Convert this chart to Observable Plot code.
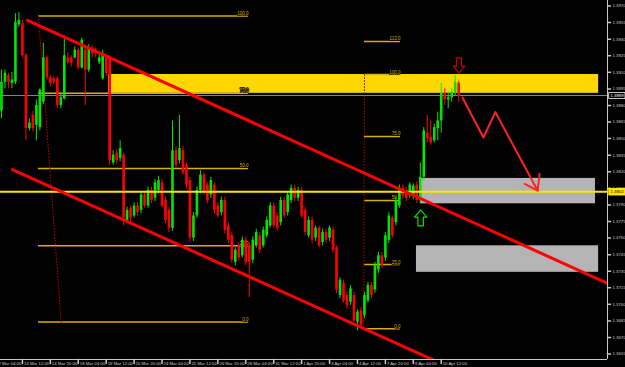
<!DOCTYPE html>
<html><head><meta charset="utf-8">
<script src="https://cdn.jsdelivr.net/npm/d3@7"></script>
<script src="https://cdn.jsdelivr.net/npm/@observablehq/plot@0.6"></script>
<style>html,body{margin:0;padding:0;background:#000;}#chart svg{display:block;}</style>
</head><body><div id="chart"></div>
<script>
// ---- EURUSD H4 candles (bar index 2..133) ----
const firstBar = 2;
const open  = [1.3875,1.3901,1.3907,1.3900,1.3901,1.3953,1.3954,1.3925,1.3859,1.3871,1.3862,1.3860,1.3883,1.3923,1.3905,1.3904,1.3904,1.3880,1.3886,1.3923,1.3923,1.3923,1.3930,1.3914,1.3930,1.3912,1.3932,1.3930,1.3919,1.3904,1.3923,1.3923,
1.3828,1.3837,1.3832,1.3835,1.3776,1.3787,1.3780,1.3789,1.3785,1.3799,1.3789,1.3803,1.3796,1.3803,1.3810,1.3794,1.3785,1.3769,1.3839,1.3830,1.3839,1.3826,1.3812,1.3760,1.3780,1.3803,1.3817,1.3808,1.3799,1.3808,1.3789,1.3783,1.3794,1.3771,1.3762,1.3738,1.3753,1.3744,1.3758,1.3753,1.3740,1.3753,1.3762,1.3753,1.3762,1.3771,1.3789,1.3780,1.3774,1.3794,1.3783,1.3794,1.3805,1.3796,1.3803,1.3785,1.3762,1.3776,1.3760,1.3769,1.3756,1.3765,1.3760,1.3767,1.3751,1.3708,1.3719,1.3708,1.3702,1.3708,1.3684,1.3694,1.3690,1.3703,1.3717,1.3713,1.3731,1.3744,1.3742,1.3758,1.3778,1.3774,1.3789,1.3805,1.3803,1.3799,1.3798,1.3808,1.3794,1.3815,1.3855,1.3851,1.3848,1.3859,1.3866,1.3891,1.3885,1.3887,1.3891,1.3900];
const high  = [1.3912,1.3912,1.3909,1.3910,1.3963,1.3964,1.3957,1.3927,1.3868,1.3875,1.3885,1.3895,1.3936,1.3925,1.3907,1.3906,1.3906,1.3890,1.3943,1.3928,1.3925,1.3933,1.3932,1.3941,1.3934,1.3935,1.3934,1.3932,1.3926,1.3930,1.3926,1.3925,
1.3839,1.3840,1.3848,1.3837,1.3788,1.3789,1.3792,1.3792,1.3801,1.3801,1.3806,1.3806,1.3813,1.3816,1.3813,1.3797,1.3788,1.3866,1.3843,1.3871,1.3843,1.3828,1.3815,1.3783,1.3806,1.3821,1.3819,1.3810,1.3815,1.3810,1.3792,1.3797,1.3797,1.3774,1.3765,1.3751,1.3756,1.3761,1.3761,1.3756,1.3761,1.3768,1.3765,1.3770,1.3779,1.3792,1.3792,1.3783,1.3797,1.3797,1.3801,1.3808,1.3808,1.3806,1.3806,1.3788,1.3779,1.3779,1.3771,1.3771,1.3768,1.3768,1.3771,1.3770,1.3753,1.3724,1.3722,1.3711,1.3717,1.3711,1.3695,1.3697,1.3711,1.3720,1.3720,1.3738,1.3747,1.3747,1.3765,1.3783,1.3780,1.3797,1.3808,1.3808,1.3806,1.3810,1.3809,1.3811,1.3828,1.3860,1.3871,1.3866,1.3863,1.3874,1.3900,1.3895,1.3892,1.3895,1.3907,1.3902];
const low   = [1.3868,1.3895,1.3895,1.3895,1.3899,1.3951,1.3923,1.3848,1.3857,1.3856,1.3848,1.3857,1.3881,1.3903,1.3897,1.3899,1.3877,1.3877,1.3885,1.3917,1.3915,1.3922,1.3912,1.3913,1.3880,1.3910,1.3923,1.3923,1.3917,1.3903,1.3906,1.3826,
1.3826,1.3827,1.3829,1.3771,1.3773,1.3775,1.3778,1.3780,1.3782,1.3787,1.3787,1.3791,1.3793,1.3800,1.3787,1.3773,1.3765,1.3766,1.3823,1.3827,1.3817,1.3805,1.3756,1.3757,1.3778,1.3800,1.3799,1.3791,1.3796,1.3782,1.3778,1.3780,1.3764,1.3755,1.3737,1.3735,1.3739,1.3742,1.3735,1.3706,1.3737,1.3751,1.3746,1.3751,1.3760,1.3769,1.3769,1.3766,1.3771,1.3778,1.3780,1.3791,1.3793,1.3793,1.3778,1.3762,1.3760,1.3755,1.3757,1.3751,1.3753,1.3755,1.3757,1.3746,1.3710,1.3705,1.3701,1.3696,1.3699,1.3683,1.3676,1.3678,1.3687,1.3701,1.3705,1.3710,1.3728,1.3732,1.3739,1.3755,1.3760,1.3771,1.3787,1.3795,1.3793,1.3796,1.3795,1.3791,1.3791,1.3812,1.3846,1.3844,1.3846,1.3848,1.3855,1.3880,1.3877,1.3883,1.3888,1.3883];
const close = [1.3901,1.3909,1.3901,1.3903,1.3955,1.3957,1.3925,1.3859,1.3864,1.3859,1.3880,1.3894,1.3923,1.3905,1.3900,1.3901,1.3880,1.3887,1.3925,1.3919,1.3918,1.3930,1.3914,1.3939,1.3912,1.3932,1.3927,1.3927,1.3923,1.3927,1.3909,1.3830,
1.3835,1.3830,1.3841,1.3778,1.3785,1.3778,1.3789,1.3783,1.3799,1.3789,1.3803,1.3794,1.3810,1.3812,1.3789,1.3776,1.3769,1.3839,1.3826,1.3841,1.3819,1.3808,1.3760,1.3780,1.3803,1.3817,1.3801,1.3794,1.3812,1.3785,1.3780,1.3794,1.3767,1.3758,1.3740,1.3749,1.3742,1.3758,1.3738,1.3738,1.3758,1.3765,1.3749,1.3767,1.3776,1.3789,1.3771,1.3769,1.3794,1.3780,1.3799,1.3805,1.3796,1.3803,1.3780,1.3765,1.3776,1.3758,1.3769,1.3753,1.3765,1.3758,1.3769,1.3749,1.3713,1.3722,1.3703,1.3699,1.3714,1.3685,1.3693,1.3681,1.3708,1.3717,1.3708,1.3735,1.3744,1.3735,1.3762,1.3780,1.3762,1.3794,1.3805,1.3798,1.3796,1.3808,1.3807,1.3794,1.3815,1.3857,1.3850,1.3846,1.3860,1.3866,1.3891,1.3885,1.3887,1.3892,1.3901,1.3888];

// ---- axes ----
const yTicks = [1.3970,1.3955,1.3940,1.3925,1.3910,1.3895,1.3880,1.3865,1.3850,1.3835,1.3820,1.3805,1.3790,1.3775,1.3760,1.3745,1.3730,1.3715,1.3700,1.3685,1.3670,1.3655];
const xTickBars = [0,8,16,24,32,40,48,56,64,72,80,88,96,104,112,120,128];
const xTickLabels = ["12 Mar 04:00","13 Mar 12:00","14 Mar 20:00","18 Mar 04:00","19 Mar 12:00","20 Mar 20:00","24 Mar 04:00","25 Mar 12:00","26 Mar 20:00","28 Mar 04:00","31 Mar 12:00","1 Apr 20:00","3 Apr 04:00","4 Apr 12:00","7 Apr 20:00","9 Apr 04:00","10 Apr 12:00"];
const bidPrice = 1.3889;
const linePrice = 1.3802;

// ---- drawn objects ----
const zoneFrom = [32.66, 122.1, 120.9];
const zoneTo   = [173.1, 172.2, 173.1];
const zoneLow  = [1.3891, 1.3791, 1.3729];
const zoneHigh = [1.3908, 1.3814, 1.3753];

const trendBar1 = [9.46, 5.16], trendP1 = [1.3957, 1.3822];
const trendBar2 = [175.64, 125.5], trendP2 = [1.3719, 1.3650];

const zigBars = [134.1, 140.1, 143.5, 155.6];
const zigPrices = [1.3887, 1.3851, 1.3874, 1.3803];
const headBars = [151.9, 155.6, 156.2];
const headPrices = [1.3809, 1.3803, 1.3818];

const leftFibLevels = [1.3961, 1.3891, 1.3823, 1.3753, 1.3684];
const leftFibLabels = ["100.0", "75.0", "50.0", "25.0", "0.0"];
const leftFibFrom = 12.6, leftFibTo = 72.8;
const leftFibDiag = {bars: [12.6, 19.1], prices: [1.3961, 1.3684]};
const rightFibLevels = [1.3938, 1.3908, 1.3852, 1.3794, 1.3736, 1.3678];
const rightFibLabels = ["113.0", "100.0", "75.0", "50.0", "25.0", "0.0"];
const rightFibFrom = 106.0, rightFibTo = 116.3;
const rightFibDiag = {bars: [106.0, 105.8], prices: [1.3908, 1.3678]};

const sellArrow = {bar: 133.1, price: 1.3923};
const buyArrow = {bar: 122.1, price: 1.3771};

// ---- build ----
const candles = open.map((o, i) => ({bar: firstBar + i, open: o, high: high[i], low: low[i], close: close[i]}));
const zones = zoneFrom.map((f, i) => ({x1: f, x2: zoneTo[i], y1: zoneLow[i], y2: zoneHigh[i], kind: i}));
const trend = [0, 1].flatMap(k => [{k, bar: trendBar1[k], p: trendP1[k]}, {k, bar: trendBar2[k], p: trendP2[k]}]);
const zig = zigBars.map((b, i) => ({bar: b, p: zigPrices[i]}));
const head = headBars.map((b, i) => ({bar: b, p: headPrices[i]}));
const lf = leftFibLevels.map((p, i) => ({p, label: leftFibLabels[i]}));
const rf = rightFibLevels.map((p, i) => ({p, label: rightFibLabels[i]}));
const diagL = leftFibDiag.bars.map((b, i) => ({bar: b, p: leftFibDiag.prices[i]}));
const diagR = rightFibDiag.bars.map((b, i) => ({bar: b, p: rightFibDiag.prices[i]}));

const xMin = 1.719, xMax = 175.64, yMin = 1.36501, yMax = 1.3975;
const up = "#00e600", down = "#ff0000", gold = "#d9b000", axisCol = "#c8c8c8";

const tickShape = {draw(ctx, l) { ctx.moveTo(0, 0); ctx.lineTo(0, -l); }};
const blockArrow = {draw(ctx, l) {
  const s = 0.17 * l, h = 0.38 * l, hl = 0.45 * l;
  ctx.moveTo(-s, 0); ctx.lineTo(-s, -l + hl); ctx.lineTo(-h, -l + hl); ctx.lineTo(0, -l);
  ctx.lineTo(h, -l + hl); ctx.lineTo(s, -l + hl); ctx.lineTo(s, 0); ctx.closePath();
}};
const boxShape = {draw(ctx) { ctx.rect(1.5, -3, 16, 6); }};

const font = "Liberation Sans, Arial, sans-serif";

const chart = Plot.plot({
  width: 625, height: 367,
  marginLeft: 0, marginRight: 18, marginTop: 0, marginBottom: 8,
  x: {domain: [xMin, xMax], axis: null},
  y: {domain: [yMin, yMax], axis: null},
  style: {background: "#000", fontFamily: font},
  marks: [
    Plot.rect(zones, {x1: "x1", x2: "x2", y1: "y1", y2: "y2", fill: d => d.kind === 0 ? "#ffd700" : "#b4b4b4"}),
    Plot.ruleY(lf, {y: "p", x1: leftFibFrom, x2: leftFibTo, stroke: gold, strokeWidth: 1.5}),
    Plot.ruleY(rf, {y: "p", x1: rightFibFrom, x2: rightFibTo, stroke: gold, strokeWidth: 1.5}),
    Plot.line(diagL, {x: "bar", y: "p", stroke: "#b00000", strokeDasharray: "1,2", strokeWidth: 1}),
    Plot.line(diagR, {x: "bar", y: "p", stroke: "#b00000", strokeDasharray: "1,2", strokeWidth: 1}),
    Plot.text(lf, {x: leftFibTo, y: "p", text: "label", textAnchor: "end", lineAnchor: "bottom", dy: -1, fill: gold, fontSize: 4.5, stroke: "#000", strokeWidth: 1.5}),
    Plot.text(rf, {x: rightFibTo, y: "p", text: "label", textAnchor: "end", lineAnchor: "bottom", dy: -1, fill: gold, fontSize: 4.5, stroke: "#000", strokeWidth: 1.5}),
    Plot.ruleY([bidPrice], {stroke: "#778899", strokeWidth: 1}),
    Plot.ruleX(candles, {x: "bar", y1: "low", y2: "high", stroke: d => d.close >= d.open ? up : down, strokeWidth: 1}),
    Plot.ruleX(candles, {x: "bar", y1: "open", y2: "close", stroke: d => d.close >= d.open ? up : down, strokeWidth: 2.6}),
    Plot.ruleY([linePrice], {stroke: "#ffe400", strokeWidth: 2}),
    Plot.line(trend, {x: "bar", y: "p", z: "k", stroke: "#ff0000", strokeWidth: 3, clip: true}),
    Plot.line(zig, {x: "bar", y: "p", stroke: "#ff2222", strokeWidth: 2}),
    Plot.line(head, {x: "bar", y: "p", stroke: "#ff2222", strokeWidth: 2}),
    Plot.vector([sellArrow], {x: "bar", y: "price", length: 15, rotate: 180, anchor: "start", shape: blockArrow, stroke: "#c80000", strokeWidth: 1.2, fill: "none"}),
    Plot.vector([buyArrow], {x: "bar", y: "price", length: 16, rotate: 0, anchor: "start", shape: blockArrow, stroke: "#00e000", strokeWidth: 1.2, fill: "none"}),
    Plot.ruleX([xMax], {stroke: axisCol, strokeWidth: 1}),
    Plot.ruleY([yMin], {stroke: axisCol, strokeWidth: 1}),
    Plot.vector(yTicks, {x: xMax, y: d => d, length: 3, rotate: 90, anchor: "start", shape: tickShape, stroke: axisCol}),
    Plot.text(yTicks, {x: xMax, y: d => d, text: d => d.toFixed(4), textAnchor: "start", dx: 5, fill: axisCol, fontSize: 4.3}),
    Plot.vector(xTickBars, {x: d => d, y: yMin, length: 4, rotate: 180, anchor: "start", shape: tickShape, stroke: axisCol}),
    Plot.text(xTickBars, {x: d => d, y: yMin, text: (d, i) => xTickLabels[i], textAnchor: "start", dx: 1.5, dy: 4, fill: axisCol, fontSize: 4.3}),
    Plot.vector([bidPrice], {x: xMax, y: d => d, length: 1, anchor: "start", shape: boxShape, fill: "#000", stroke: "#ffffff", strokeWidth: 0.8}),
    Plot.text([bidPrice], {x: xMax, y: d => d, text: d => d.toFixed(4), textAnchor: "start", dx: 3, fill: "#fff", fontSize: 4.3}),
    Plot.vector([linePrice], {x: xMax, y: d => d, length: 1, anchor: "start", shape: boxShape, fill: "#ffe400", stroke: "#ffe400"}),
    Plot.text([linePrice], {x: xMax, y: d => d, text: d => d.toFixed(4), textAnchor: "start", dx: 3, fill: "#000", fontSize: 4.3})
  ]
});
document.getElementById("chart").append(chart);
</script>
</body></html>
